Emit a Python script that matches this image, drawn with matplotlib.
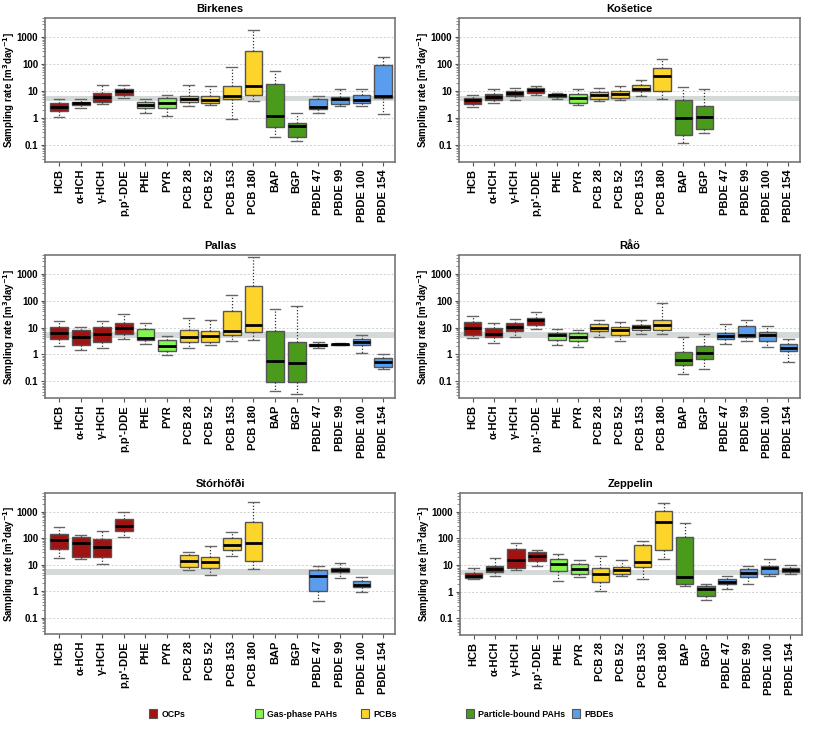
import numpy as np
import matplotlib
matplotlib.use('Agg')
from matplotlib import pyplot as plt
from matplotlib.patches import Patch

compounds = ['HCB', 'α-HCH', 'γ-HCH', "p,p'-DDE", 'PHE', 'PYR', 'PCB 28', 'PCB 52',
             'PCB 153', 'PCB 180', 'BAP', 'BGP', 'PBDE 47', 'PBDE 99', 'PBDE 100', 'PBDE 154']
groups = ['OCPs'] * 4 + ['Gas-phase PAHs'] * 2 + ['PCBs'] * 4 + ['Particle-bound PAHs'] * 2 + ['PBDEs'] * 4
group_names = ['OCPs', 'Gas-phase PAHs', 'PCBs', 'Particle-bound PAHs', 'PBDEs']
group_colors = ['#a11313', '#84f552', '#fdd42a', '#4a9a1c', '#5b9ded']

# each row: whisker low, q1, median, q3, whisker high (None = no data)
birkenes = [
    [1.15, 1.8, 2.5, 3.5, 5.2], [2.4, 3.0, 3.5, 4.0, 5.2], [3.2, 3.8, 6.0, 8.2, 17],
    [5.4, 7.4, 10.3, 12, 17], [1.5, 2.3, 3.0, 4.0, 5.2], [1.25, 2.3, 3.6, 5.4, 7.2],
    [2.8, 3.8, 5.2, 6.7, 17], [3.0, 3.6, 4.8, 6.6, 15.5], [0.95, 5.0, 6.6, 16, 76],
    [4.3, 7.4, 15, 300, 1850], [0.2, 0.48, 1.22, 19, 57], [0.14, 0.2, 0.5, 0.69, 1.5],
    [1.6, 2.2, 2.5, 5.1, 6.7], [2.7, 3.2, 5.1, 5.9, 12], [2.9, 3.6, 4.5, 7.4, 12],
    [1.4, 5.4, 6.7, 93, 180]]
kosetice = [
    [2.6, 3.4, 4.8, 5.4, 7.1], [3.7, 4.5, 6.0, 8.0, 11.5], [4.5, 6.7, 8.2, 10, 13.3],
    [7.3, 8.7, 10.9, 12.5, 15.3], [5.2, 6.0, 6.9, 8.0, 8.7], [2.95, 3.7, 5.5, 8.0, 11.5],
    [4.4, 5.2, 7.3, 9.2, 12.5], [4.6, 5.7, 7.5, 10.3, 15.3], [6.7, 10, 12.2, 16.2, 25.5],
    [4.9, 10, 35, 71, 148], [0.12, 0.24, 1.0, 4.8, 14], [0.29, 0.4, 1.1, 2.8, 11.9],
    None, None, None, None]
pallas = [
    [2.1, 3.7, 6.2, 10.9, 18], [1.45, 2.3, 4.4, 8.2, 10.6], [1.7, 2.8, 5.7, 10.9, 18],
    [3.9, 6.0, 9.5, 14.5, 32], [2.55, 3.4, 4.0, 8.7, 15.3], [0.92, 1.3, 2.1, 3.5, 4.9],
    [1.7, 2.8, 4.6, 8.2, 22], [2.2, 3.0, 4.9, 7.3, 18.7], [3.3, 5.2, 7.5, 41, 157],
    [3.5, 6.9, 12.2, 350, 4200], [0.045, 0.097, 0.55, 7.7, 48], [0.034, 0.097, 0.48, 2.95, 63],
    [1.7, 1.98, 2.2, 2.55, 2.8], [2.2, 2.3, 2.4, 2.5, 2.6], [1.1, 2.2, 2.9, 3.9, 5.5],
    [0.3, 0.35, 0.52, 0.73, 1.03]]
rao = [
    [4.0, 5.5, 9.5, 16, 27], [2.6, 4.5, 6.0, 9.5, 14.5], [4.6, 7.3, 10.9, 15.3, 21.6],
    [9.2, 12.9, 18.7, 22, 39], [2.2, 3.5, 5.1, 6.2, 9.2], [1.9, 3.1, 4.4, 6.2, 8.4],
    [4.3, 7.3, 10, 13.3, 19.2], [3.3, 5.2, 8.0, 10.2, 15.8], [6.0, 8.4, 10.6, 12.5, 18.7],
    [5.7, 8.4, 12.9, 18.7, 84], [0.18, 0.4, 0.6, 1.19, 4.6], [0.29, 0.67, 1.09, 1.98, 5.7],
    [2.55, 3.7, 4.9, 6.3, 13.7], [3.2, 4.6, 5.2, 11.9, 19.8], [1.87, 3.1, 5.5, 6.9, 11.5],
    [0.53, 1.33, 1.8, 2.4, 3.9]]
storhofdi = [
    [17, 40, 84, 136, 262], [16.7, 20, 63, 106, 126], [10.3, 20, 45, 92, 192],
    [112, 182, 295, 520, 940], None, None,
    [6.3, 8.4, 13.6, 22, 29.5], [3.9, 7.5, 12.9, 18.7, 49], [21, 34, 56, 103, 172],
    [6.9, 13.3, 67, 390, 2200], None, None,
    [0.43, 1.03, 3.6, 6.3, 8.7], [3.0, 5.1, 6.2, 7.3, 11.5], [0.89, 1.37, 1.67, 2.5, 3.4],
    None]
zeppelin = [
    [2.95, 3.2, 4.0, 5.2, 7.7], [3.9, 5.3, 6.9, 9.2, 18], [6.3, 7.7, 15.3, 41, 67],
    [8.9, 13.7, 21, 30, 37], [2.6, 5.8, 10.8, 17, 26], [3.6, 4.5, 7.1, 10.9, 15],
    [1.06, 2.3, 4.8, 7.5, 21.6], [3.8, 4.5, 6.5, 8.2, 15.8], [3.0, 8.2, 12.9, 55, 82],
    [17, 38, 410, 1100, 2200], [1.67, 2.0, 3.6, 112, 370], [0.48, 0.69, 1.25, 1.67, 1.9],
    [1.29, 1.92, 2.35, 2.95, 3.8], [2.0, 3.5, 5.2, 6.9, 9.5], [3.8, 4.8, 7.5, 9.2, 16.7],
    [4.5, 5.5, 6.5, 7.7, 10.3]]

sites = ['Birkenes', 'Košetice', 'Pallas', 'Råö', 'Stórhöfði', 'Zeppelin']
site_data = [birkenes, kosetice, pallas, rao, storhofdi, zeppelin]

plt.rcParams['font.family'] = 'Liberation Sans'
plt.rcParams['font.weight'] = 'bold'

fig = plt.figure(figsize=(8.15, 7.34), dpi=100)
W, H = 815.0, 734.0
# axes boxes in pixels: left, top, right, bottom
boxes = [(45, 18, 395, 162), (459, 18, 800, 162),
         (45, 255, 395, 398), (459, 255, 800, 398),
         (45, 493, 395, 634), (460, 493, 802, 635)]

color_of = dict(zip(group_names, group_colors))

for site, data, (l, t, r, b) in zip(sites, site_data, boxes):
    ax = fig.add_axes([l / W, 1 - b / H, (r - l) / W, (b - t) / H])
    stats, pos, cols = [], [], []
    for i, row in enumerate(data):
        if row is None:
            continue
        lo, q1, med, q3, hi = row
        stats.append(dict(whislo=lo, q1=q1, med=med, q3=q3, whishi=hi, fliers=[]))
        pos.append(i + 1)
        cols.append(color_of[groups[i]])
    ax.axhspan(4.2, 6.8, color='#d5dad8', zorder=0, lw=0)
    for g in [0.1, 1, 10, 100, 1000]:
        ax.axhline(g, color='#d0d0d0', ls=(0, (2, 2)), lw=0.7, zorder=0.5)
    bp = ax.bxp(stats, positions=pos, widths=0.82, patch_artist=True, showfliers=False,
                boxprops=dict(edgecolor='#555555', linewidth=1.0),
                whiskerprops=dict(color='#333333', linestyle=(0, (1, 1.5)), linewidth=0.9),
                capprops=dict(color='#666666', linewidth=1.0),
                medianprops=dict(color='black', linewidth=2.0), capwidths=0.5)
    for patch, c in zip(bp['boxes'], cols):
        patch.set_facecolor(c)
    ax.set_yscale('log')
    ax.set_ylim(0.024, 5000)
    ax.set_xlim(0.35, 16.55)
    ax.set_yticks([0.1, 1, 10, 100, 1000])
    ax.set_yticklabels(['0.1', '1', '10', '100', '1000'], fontsize=7, fontweight='bold')
    ax.set_xticks(np.arange(1, 17))
    ax.set_xticklabels(compounds, rotation=90, fontsize=8, fontweight='bold')
    ax.tick_params(axis='both', direction='out', length=3, color='#555555', pad=2)
    ax.tick_params(axis='y', which='minor', length=2, color='#777777')
    ax.yaxis.set_minor_formatter(matplotlib.ticker.NullFormatter())
    ax.set_ylabel('Sampling rate [m$^\\mathbf{3}$day$^\\mathbf{-1}$]', fontsize=7,
                  fontweight='bold')
    ax.yaxis.set_label_coords(-28.0 / (r - l), 0.5)
    ax.set_title(site, fontsize=8, fontweight='bold', pad=4)
    for s in ax.spines.values():
        s.set_color('#777777')
        s.set_linewidth(1.2)

legend_x = [156, 262, 368, 473, 579]
for name, c, x in zip(group_names, group_colors, legend_x):
    h = Patch(facecolor=c, edgecolor='#555555', linewidth=0.8)
    fig.legend([h], [name], loc='center left', bbox_to_anchor=((x - 7) / W, 1 - 714 / H),
               frameon=False, fontsize=6.3, handlelength=0.9, handleheight=1.2,
               handletextpad=0.5, borderpad=0, borderaxespad=0)

fig.savefig('out.png', dpi=100)
